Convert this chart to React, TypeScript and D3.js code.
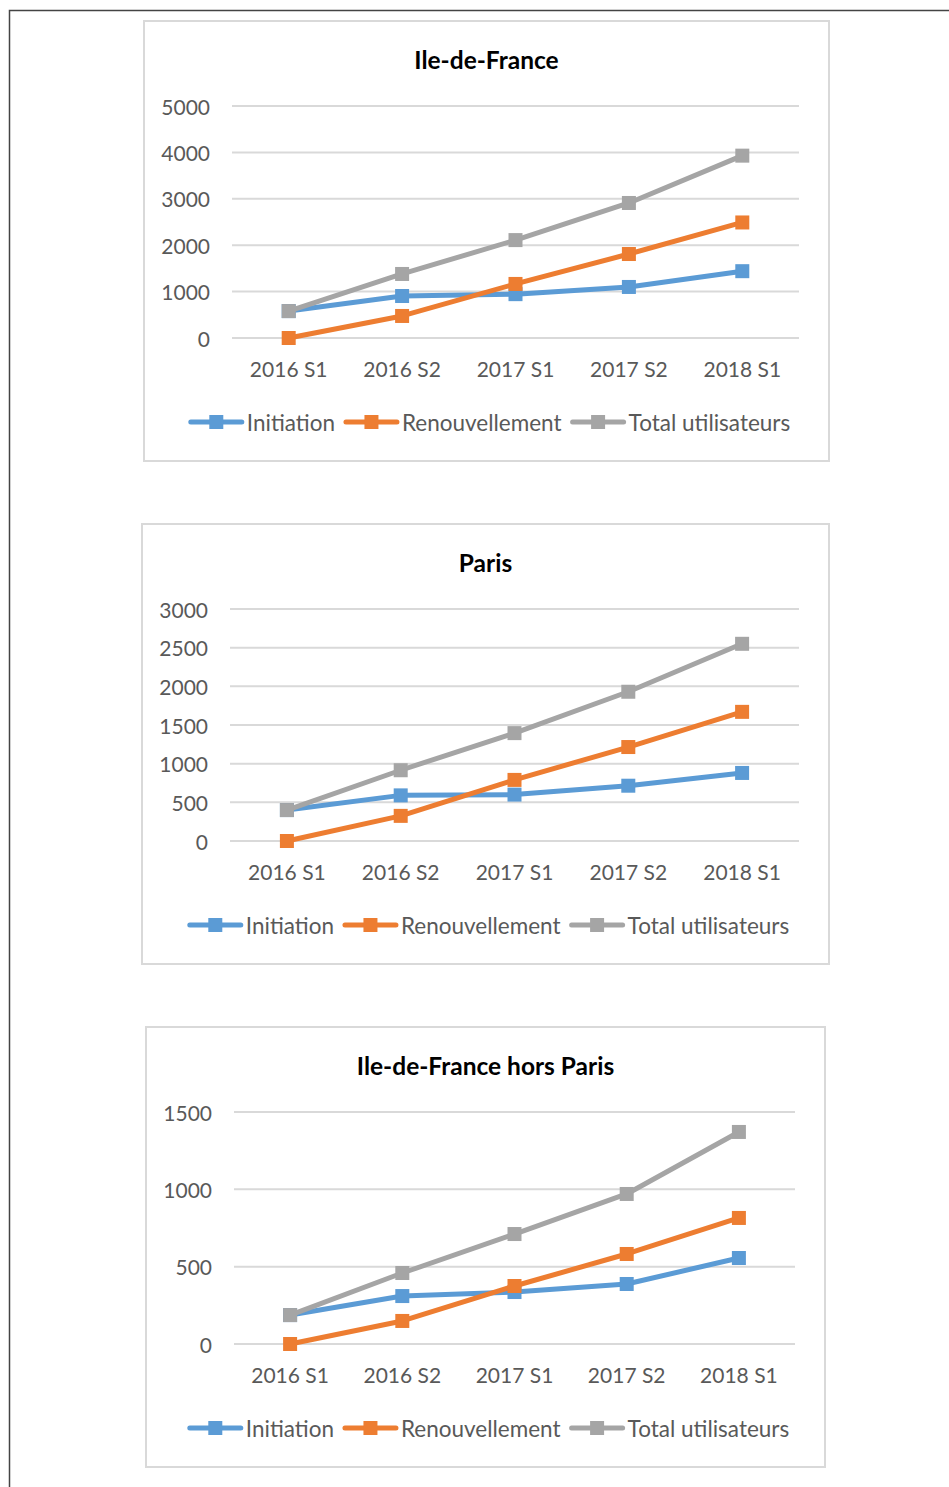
import React, { useEffect, useRef } from 'react'
import * as d3 from 'd3'

const categories = ['2016 S1', '2016 S2', '2017 S1', '2017 S2', '2018 S1']
const seriesNames = ['Initiation', 'Renouvellement', 'Total utilisateurs']
const colors = ['#5b9bd5', '#ed7d31', '#a5a5a5']

const idfInitiation = [580, 905, 945, 1100, 1440]
const idfRenouvellement = [0, 475, 1165, 1810, 2490]
const idfTotal = [580, 1380, 2110, 2910, 3930]
const idfTicks = [0, 1000, 2000, 3000, 4000, 5000]

const parisInitiation = [400, 590, 600, 715, 880]
const parisRenouvellement = [0, 325, 790, 1215, 1670]
const parisTotal = [400, 915, 1395, 1930, 2550]
const parisTicks = [0, 500, 1000, 1500, 2000, 2500, 3000]

const horsInitiation = [187, 310, 336, 388, 556]
const horsRenouvellement = [0, 149, 375, 582, 815]
const horsTotal = [187, 459, 711, 970, 1371]
const horsTicks = [0, 500, 1000, 1500]

const charts = [
  { title: 'Ile-de-France', ticks: idfTicks, series: [idfInitiation, idfRenouvellement, idfTotal],
    panel: { x: 144, y: 21, w: 685 }, plot: { left: 232, right: 799 } },
  { title: 'Paris', ticks: parisTicks, series: [parisInitiation, parisRenouvellement, parisTotal],
    panel: { x: 142, y: 524, w: 687 }, plot: { left: 230, right: 799 } },
  { title: 'Ile-de-France hors Paris', ticks: horsTicks, series: [horsInitiation, horsRenouvellement, horsTotal],
    panel: { x: 146, y: 1027, w: 679 }, plot: { left: 234, right: 795 } },
]

const FONT = 'Lato, "Open Sans", sans-serif'

const App = () => {
  const ref = useRef<SVGSVGElement>(null)

  useEffect(() => {
    const svg = d3.select(ref.current)
    svg.selectAll('*').remove()

    // page frame
    svg.append('path')
      .attr('d', 'M9.5,1487 V10.5 H949')
      .attr('fill', 'none')
      .attr('stroke', '#444')
      .attr('stroke-width', 1.5)

    charts.forEach(c => {
      const g = svg.append('g')
      const py = c.panel.y
      g.append('rect')
        .attr('x', c.panel.x).attr('y', py)
        .attr('width', c.panel.w).attr('height', 440)
        .attr('fill', '#fff')
        .attr('stroke', '#d9d9d9')
        .attr('stroke-width', 2)

      g.append('text')
        .attr('x', c.panel.x + c.panel.w / 2)
        .attr('y', py + 38)
        .attr('text-anchor', 'middle')
        .attr('dominant-baseline', 'central')
        .attr('font-family', FONT)
        .attr('font-weight', 'bold')
        .attr('font-size', 24.5)
        .attr('fill', '#000')
        .text(c.title)

      const x = d3.scalePoint<string>()
        .domain(categories)
        .range([c.plot.left, c.plot.right])
        .padding(0.5)

      const y = d3.scaleLinear()
        .domain([0, d3.max(c.ticks) as number])
        .range([py + 317, py + 85])

      g.selectAll('.grid')
        .data(c.ticks)
        .join('line')
        .attr('x1', c.plot.left).attr('x2', c.plot.right)
        .attr('y1', d => y(d)).attr('y2', d => y(d))
        .attr('stroke', '#d9d9d9')
        .attr('stroke-width', 2)

      g.selectAll('.ylab')
        .data(c.ticks)
        .join('text')
        .attr('x', c.plot.left - 22)
        .attr('y', d => y(d))
        .attr('text-anchor', 'end')
        .attr('dominant-baseline', 'central')
        .attr('font-family', FONT)
        .attr('font-size', 21)
        .attr('fill', '#595959')
        .text(d => d)

      g.selectAll('.xlab')
        .data(categories)
        .join('text')
        .attr('x', d => x(d) as number)
        .attr('y', py + 347)
        .attr('text-anchor', 'middle')
        .attr('dominant-baseline', 'central')
        .attr('font-family', FONT)
        .attr('font-size', 21)
        .attr('fill', '#595959')
        .text(d => d)

      const line = d3.line<number>()
        .x((_, i) => x(categories[i]) as number)
        .y(d => y(d))

      c.series.forEach((s, si) => {
        g.append('path')
          .datum(s)
          .attr('d', line)
          .attr('fill', 'none')
          .attr('stroke', colors[si])
          .attr('stroke-width', 5)
          .attr('stroke-linejoin', 'round')
          .attr('stroke-linecap', 'round')
        g.selectAll(null)
          .data(s)
          .join('rect')
          .attr('x', (_, i) => (x(categories[i]) as number) - 7)
          .attr('y', d => y(d) - 7)
          .attr('width', 14).attr('height', 14)
          .attr('fill', colors[si])
      })

      // legend
      const lg = g.append('g')
      let cx = 0
      seriesNames.forEach((name, i) => {
        const item = lg.append('g').attr('transform', `translate(${cx},0)`)
        item.append('line')
          .attr('x1', 2).attr('x2', 53)
          .attr('stroke', colors[i]).attr('stroke-width', 5)
          .attr('stroke-linecap', 'round')
        item.append('rect')
          .attr('x', 20.5).attr('y', -7)
          .attr('width', 14).attr('height', 14)
          .attr('fill', colors[i])
        const t = item.append('text')
          .attr('x', 58)
          .attr('dominant-baseline', 'central')
          .attr('font-family', FONT)
          .attr('font-size', 22.5)
          .attr('fill', '#595959')
          .text(name)
        const w = (t.node() as SVGTextElement).getComputedTextLength()
        cx += 58 + w + 9
      })
      const total = cx - 9
      lg.attr('transform', `translate(${c.panel.x + c.panel.w / 2 - total / 2 + 3},${py + 401})`)
    })
  }, [])

  return (
    <div>
      <svg ref={ref} width={949} height={1487}
        style={{ position: 'absolute', left: 0, top: 0, background: '#fff' }} />
    </div>
  )
}

export default App
